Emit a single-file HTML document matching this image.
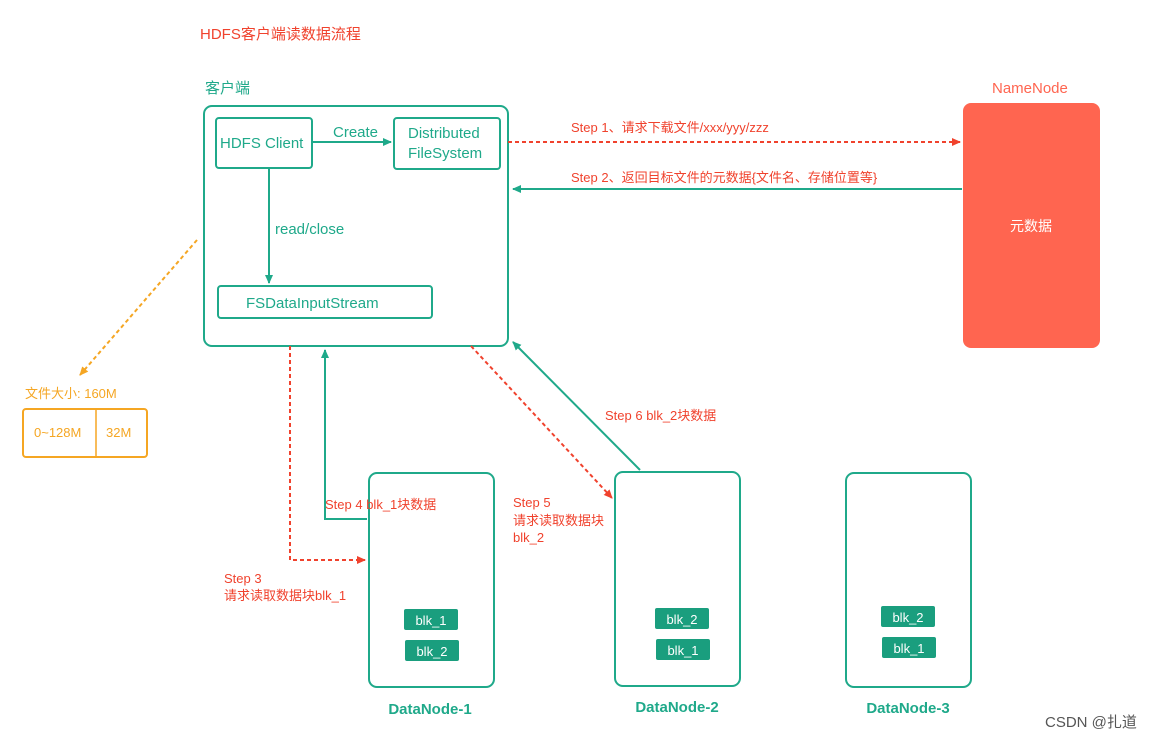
<!DOCTYPE html>
<html><head><meta charset="utf-8"><style>
html,body{margin:0;padding:0;background:#fff;width:1170px;height:740px;overflow:hidden}
text{font-family:"Liberation Sans","Noto Sans CJK SC",sans-serif}
</style></head><body>
<svg width="1170" height="740" xmlns="http://www.w3.org/2000/svg">
<defs>
<marker id="t" markerWidth="10" markerHeight="10" refX="8" refY="5" orient="auto" markerUnits="userSpaceOnUse"><path d="M0,1 L9,5 L0,9 Z" fill="#1fa98a"/></marker>
<marker id="r" markerWidth="10" markerHeight="10" refX="8" refY="5" orient="auto" markerUnits="userSpaceOnUse"><path d="M0,1 L9,5 L0,9 Z" fill="#f0422d"/></marker>
<marker id="o" markerWidth="10" markerHeight="10" refX="8" refY="5" orient="auto" markerUnits="userSpaceOnUse"><path d="M0,1 L9,5 L0,9 Z" fill="#f5a623"/></marker>
</defs>
<g font-size="15">
<text x="200" y="39" fill="#f0422d">HDFS客户端读数据流程</text>
<text x="205" y="93" fill="#1fa98a">客户端</text>
<text x="992" y="93" fill="#ff6550">NameNode</text>
</g>
<g fill="none" stroke="#1fa98a" stroke-width="2">
<rect x="204" y="106" width="304" height="240" rx="8"/>
<rect x="216" y="118" width="96" height="50" rx="3"/>
<rect x="394" y="118" width="106" height="51" rx="3"/>
<rect x="218" y="286" width="214" height="32" rx="3"/>
<rect x="369" y="473" width="125" height="214" rx="8"/>
<rect x="615" y="472" width="125" height="214" rx="8"/>
<rect x="846" y="473" width="125" height="214" rx="8"/>
<line x1="312" y1="142" x2="391" y2="142" marker-end="url(#t)"/>
<line x1="269" y1="168" x2="269" y2="283" marker-end="url(#t)"/>
<line x1="962" y1="189" x2="513" y2="189" marker-end="url(#t)"/>
<polyline points="367,519 325,519 325,350" marker-end="url(#t)"/>
<line x1="640" y1="470" x2="513" y2="342" marker-end="url(#t)"/>
</g>
<rect x="963" y="103" width="137" height="245" rx="8" fill="#ff6550"/>
<text x="1031" y="231" fill="#fff" font-size="14" text-anchor="middle">元数据</text>
<g fill="none" stroke="#f0422d" stroke-width="2" stroke-dasharray="4,3">
<line x1="508" y1="142" x2="960" y2="142" marker-end="url(#r)"/>
<polyline points="290,346 290,560 365,560" marker-end="url(#r)"/>
<line x1="471" y1="346" x2="612" y2="498" marker-end="url(#r)"/>
</g>
<line x1="197" y1="240" x2="80" y2="375" stroke="#f5a623" stroke-width="2" stroke-dasharray="4,3" marker-end="url(#o)"/>
<rect x="23" y="409" width="124" height="48" rx="3" fill="none" stroke="#f5a623" stroke-width="2"/>
<line x1="96" y1="409" x2="96" y2="457" stroke="#f5a623" stroke-width="1.5"/>
<g font-size="15" fill="#1fa98a">
<text x="220" y="148">HDFS Client</text>
<text x="333" y="137">Create</text>
<text x="408" y="138">Distributed</text>
<text x="408" y="158">FileSystem</text>
<text x="275" y="234">read/close</text>
<text x="246" y="308">FSDataInputStream</text>
</g>
<g font-size="13" fill="#f5a623">
<text x="25" y="398">文件大小: 160M</text>
<text x="34" y="437">0~128M</text>
<text x="106" y="437">32M</text>
</g>
<g font-size="13" fill="#f0422d">
<text x="571" y="132">Step 1、请求下载文件/xxx/yyy/zzz</text>
<text x="571" y="182">Step 2、返回目标文件的元数据{文件名、存储位置等}</text>
<text x="605" y="420">Step 6 blk_2块数据</text>
<text x="325" y="509">Step 4 blk_1块数据</text>
<text x="513" y="507">Step 5</text>
<text x="513" y="525">请求读取数据块</text>
<text x="513" y="542">blk_2</text>
<text x="224" y="583">Step 3</text>
<text x="224" y="600">请求读取数据块blk_1</text>
</g>
<g fill="#1a9e7e">
<rect x="404" y="609" width="54" height="21" rx="2"/>
<rect x="405" y="640" width="54" height="21" rx="2"/>
<rect x="655" y="608" width="54" height="21" rx="2"/>
<rect x="656" y="639" width="54" height="21" rx="2"/>
<rect x="881" y="606" width="54" height="21" rx="2"/>
<rect x="882" y="637" width="54" height="21" rx="2"/>
</g>
<g font-size="13" fill="#fff" text-anchor="middle">
<text x="431" y="625">blk_1</text><text x="432" y="656">blk_2</text>
<text x="682" y="624">blk_2</text><text x="683" y="655">blk_1</text>
<text x="908" y="622">blk_2</text><text x="909" y="653">blk_1</text>
</g>
<g font-size="15" font-weight="bold" fill="#1fa98a" text-anchor="middle">
<text x="430" y="714">DataNode-1</text>
<text x="677" y="712">DataNode-2</text>
<text x="908" y="713">DataNode-3</text>
</g>
<text x="1045" y="727" font-size="15" fill="#555">CSDN @扎道</text>
</svg>
</body></html>
